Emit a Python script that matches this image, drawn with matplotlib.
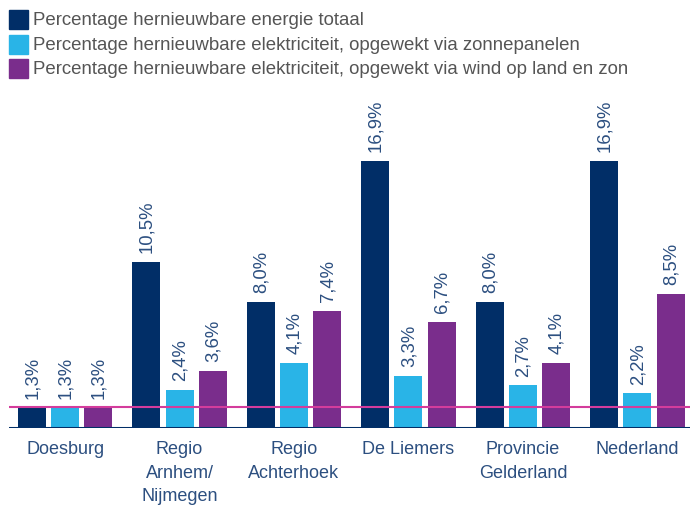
import matplotlib
matplotlib.use("Agg")
import matplotlib.pyplot as plt
from matplotlib.patches import Rectangle
import numpy as np

plt.rcParams['font.family'] = ['Liberation Sans', 'DejaVu Sans']

categories = ["Doesburg", "Regio\nArnhem/\nNijmegen", "Regio\nAchterhoek",
              "De Liemers", "Provincie\nGelderland", "Nederland"]
series_names = [
    "Percentage hernieuwbare energie totaal",
    "Percentage hernieuwbare elektriciteit, opgewekt via zonnepanelen",
    "Percentage hernieuwbare elektriciteit, opgewekt via wind op land en zon",
]
totaal = [1.3, 10.5, 8.0, 16.9, 8.0, 16.9]
zon = [1.3, 2.4, 4.1, 3.3, 2.7, 2.2]
wind_zon = [1.3, 3.6, 7.4, 6.7, 4.1, 8.5]
reference_level = 1.3  # Doesburg

colors = ["#012e67", "#29b4e7", "#7a2d8c"]
label_color = "#2c4f80"
text_gray = "#555555"

W, H = 690, 506
fig = plt.figure(figsize=(W / 100, H / 100), dpi=100)
ax = fig.add_axes([9 / W, (H - 429) / H, 1 - 9 / W, (429 - 100) / H])

x = np.arange(len(categories))
width = 0.245
step = 0.29
for i, (vals, col) in enumerate(zip([totaal, zon, wind_zon], colors)):
    pos = x + (i - 1) * step
    ax.bar(pos, vals, width=width, color=col, zorder=2)
    for px, v in zip(pos, vals):
        ax.annotate(f"{v:.1f}".replace(".", ",") + "%", (px, v),
                    xytext=(0.5, 7), textcoords="offset points",
                    rotation=90, ha="center", va="bottom",
                    fontsize=13.3, color=label_color)

ax.axhline(reference_level, color="#d43c9c", lw=1.5, zorder=3)
ax.axhline(0, color="#012e67", lw=2.2, zorder=4)

ax.set_xlim(-0.49, 5.46)
ax.set_ylim(0, 329 / 15.8)
for s in ax.spines.values():
    s.set_visible(False)
ax.set_yticks([])
ax.set_xticks(x)
ax.set_xticklabels(categories, fontsize=13, color=label_color, linespacing=1.5)
ax.tick_params(axis="x", length=0, pad=9)

# legend
for i, (name, col) in enumerate(zip(series_names, colors)):
    top = 11 + i * 24.5
    fig.patches.append(Rectangle((9 / W, 1 - (top + 19) / H), 19 / W, 19 / H,
                                 transform=fig.transFigure, color=col))
    fig.text(33 / W, 1 - (top + 9.5) / H, name, fontsize=13.4,
             color=text_gray, va="center", ha="left")

fig.savefig("out.png", dpi=100)
